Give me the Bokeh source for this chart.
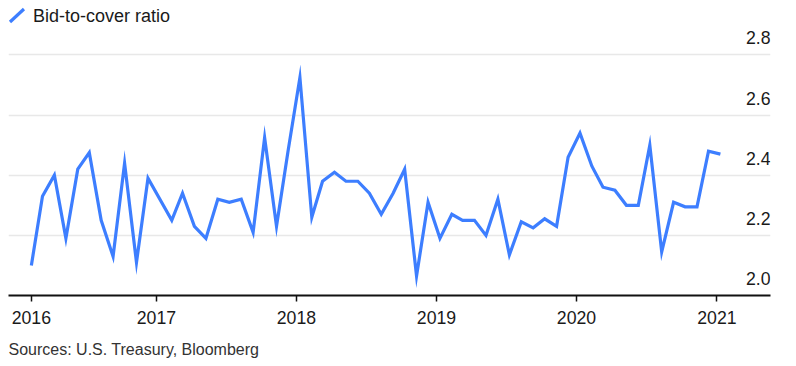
import pandas as pd
from bokeh.plotting import figure
from bokeh.models import Range1d, FixedTicker, Title, ColumnDataSource
from bokeh.core.properties import value
from bokeh.embed import file_html
from bokeh.resources import INLINE

# ---- data (monthly auction results) ----
months = [
    "2016-02", "2016-03", "2016-04", "2016-05", "2016-06", "2016-07", "2016-08",
    "2016-09", "2016-10", "2016-11", "2016-12",
    "2017-02", "2017-03", "2017-04", "2017-05", "2017-06", "2017-07", "2017-08",
    "2017-09", "2017-10", "2017-11", "2017-12",
    "2018-01", "2018-02", "2018-03", "2018-04", "2018-05", "2018-06", "2018-07",
    "2018-08", "2018-09", "2018-10", "2018-11", "2018-12",
    "2019-01", "2019-02", "2019-03", "2019-04", "2019-05", "2019-06", "2019-07",
    "2019-08", "2019-09", "2019-10", "2019-11", "2019-12",
    "2020-01", "2020-02", "2020-03", "2020-04", "2020-05", "2020-06", "2020-07",
    "2020-08", "2020-09", "2020-10", "2020-11", "2020-12",
    "2021-01",
]
bid_to_cover = [
    2.10, 2.33, 2.40, 2.19, 2.42, 2.475, 2.25, 2.13, 2.44, 2.11, 2.39,
    2.25, 2.34, 2.23, 2.19, 2.32, 2.31, 2.32, 2.21, 2.525, 2.23, 2.48,
    2.725, 2.26, 2.38, 2.41, 2.38, 2.38, 2.34, 2.27, 2.34, 2.42, 2.065, 2.31,
    2.19, 2.27, 2.25, 2.25, 2.20, 2.32, 2.135, 2.245, 2.225, 2.255, 2.23, 2.46,
    2.54, 2.43, 2.36, 2.35, 2.30, 2.30, 2.50, 2.145, 2.31, 2.295, 2.295, 2.48,
    2.47,
]
year_ticks = ["2016", "2017", "2018", "2019", "2020", "2021"]
y_ticks = [2.0, 2.2, 2.4, 2.6, 2.8]
y_tick_labels = ["2.0", "2.2", "2.4", "2.6", "2.8"]
series_name = "Bid-to-cover ratio"
source_note = "Sources: U.S. Treasury, Bloomberg"

FONT = "Liberation Sans"
BLUE = "#3d7eff"

dates = pd.to_datetime([m + "-10" for m in months])


def ms(ts):
    return pd.Timestamp(ts).value / 1e6


x_start = ms("2015-12-12 10:00")
x_end = ms("2021-05-20 14:00")
y_start, y_end = 2.0, 2.981

p = figure(width=796, height=366, x_axis_type="datetime",
           x_range=Range1d(x_start, x_end), y_range=Range1d(y_start, y_end),
           output_backend="svg", toolbar_location=None,
           min_border_left=8, min_border_right=26, min_border_top=0,
           min_border_bottom=71)
p.outline_line_color = None
p.background_fill_color = "white"
p.border_fill_color = "white"

src = ColumnDataSource(dict(x=dates, y=bid_to_cover))
p.line("x", "y", source=src, line_color=BLUE, line_width=3.2, line_join="miter")

# x axis
tick_pos = [ms(dates[0])] + [ms(f"{y}-01-01") for y in year_ticks[1:]]
p.xaxis.ticker = FixedTicker(ticks=tick_pos)
p.xaxis.major_label_overrides = {t: lab for t, lab in zip(tick_pos, year_ticks)}
p.xaxis.axis_line_color = "#111111"
p.xaxis.axis_line_width = 1.8
p.xaxis.major_tick_line_color = "#111111"
p.xaxis.major_tick_line_width = 1.5
p.xaxis.major_tick_in = 0
p.xaxis.major_tick_out = 6
p.xaxis.minor_tick_line_color = None
p.xaxis.major_label_standoff = 9
p.xaxis.major_label_text_font = FONT
p.xaxis.major_label_text_font_size = "17.7px"
p.xaxis.major_label_text_color = "#1a1a1a"
p.xgrid.grid_line_color = None

# y axis: hidden, gridlines + labels above them on the right
p.yaxis.visible = False
p.yaxis.ticker = FixedTicker(ticks=y_ticks)
p.ygrid.ticker = FixedTicker(ticks=y_ticks)
p.ygrid.grid_line_color = "#e8e8e8"
p.ygrid.grid_line_width = 1.6

ylab = ColumnDataSource(dict(x=[x_end] * len(y_ticks), y=y_ticks, t=y_tick_labels))
p.text("x", "y", text="t", source=ylab, text_align="right",
       text_baseline="alphabetic", y_offset=-17,
       text_font=value(FONT), text_font_size="17.7px", text_color="#1a1a1a")


# legend drawn at top-left (pixel -> data helpers)
def px_x(px):
    return ms("2017-01-01") + (px - 156) / 0.38378 * 86400000


def px_y(py):
    return y_start + (295 - py) / 300.75


p.segment(x0=[px_x(9.5)], y0=[px_y(21.5)], x1=[px_x(23.5)], y1=[px_y(8.5)],
          line_color=BLUE, line_width=3.2)
p.text(x=[px_x(32.5)], y=[px_y(21.3)], text=[series_name], text_align="left",
       text_baseline="alphabetic", y_offset=-6, text_font=value(FONT),
       text_font_size="18px", text_color="#1a1a1a")

spacer = Title(text=" ", align="left", text_font=FONT, text_font_size="8.5px",
               offset=0, standoff=0)
p.add_layout(spacer, "below")
note = Title(text=source_note, align="left", text_font=FONT,
             text_font_size="16px", text_font_style="normal",
             text_color="#333333", offset=0, standoff=0)
p.add_layout(note, "below")

open("out.html", "w").write(file_html(p, INLINE))
